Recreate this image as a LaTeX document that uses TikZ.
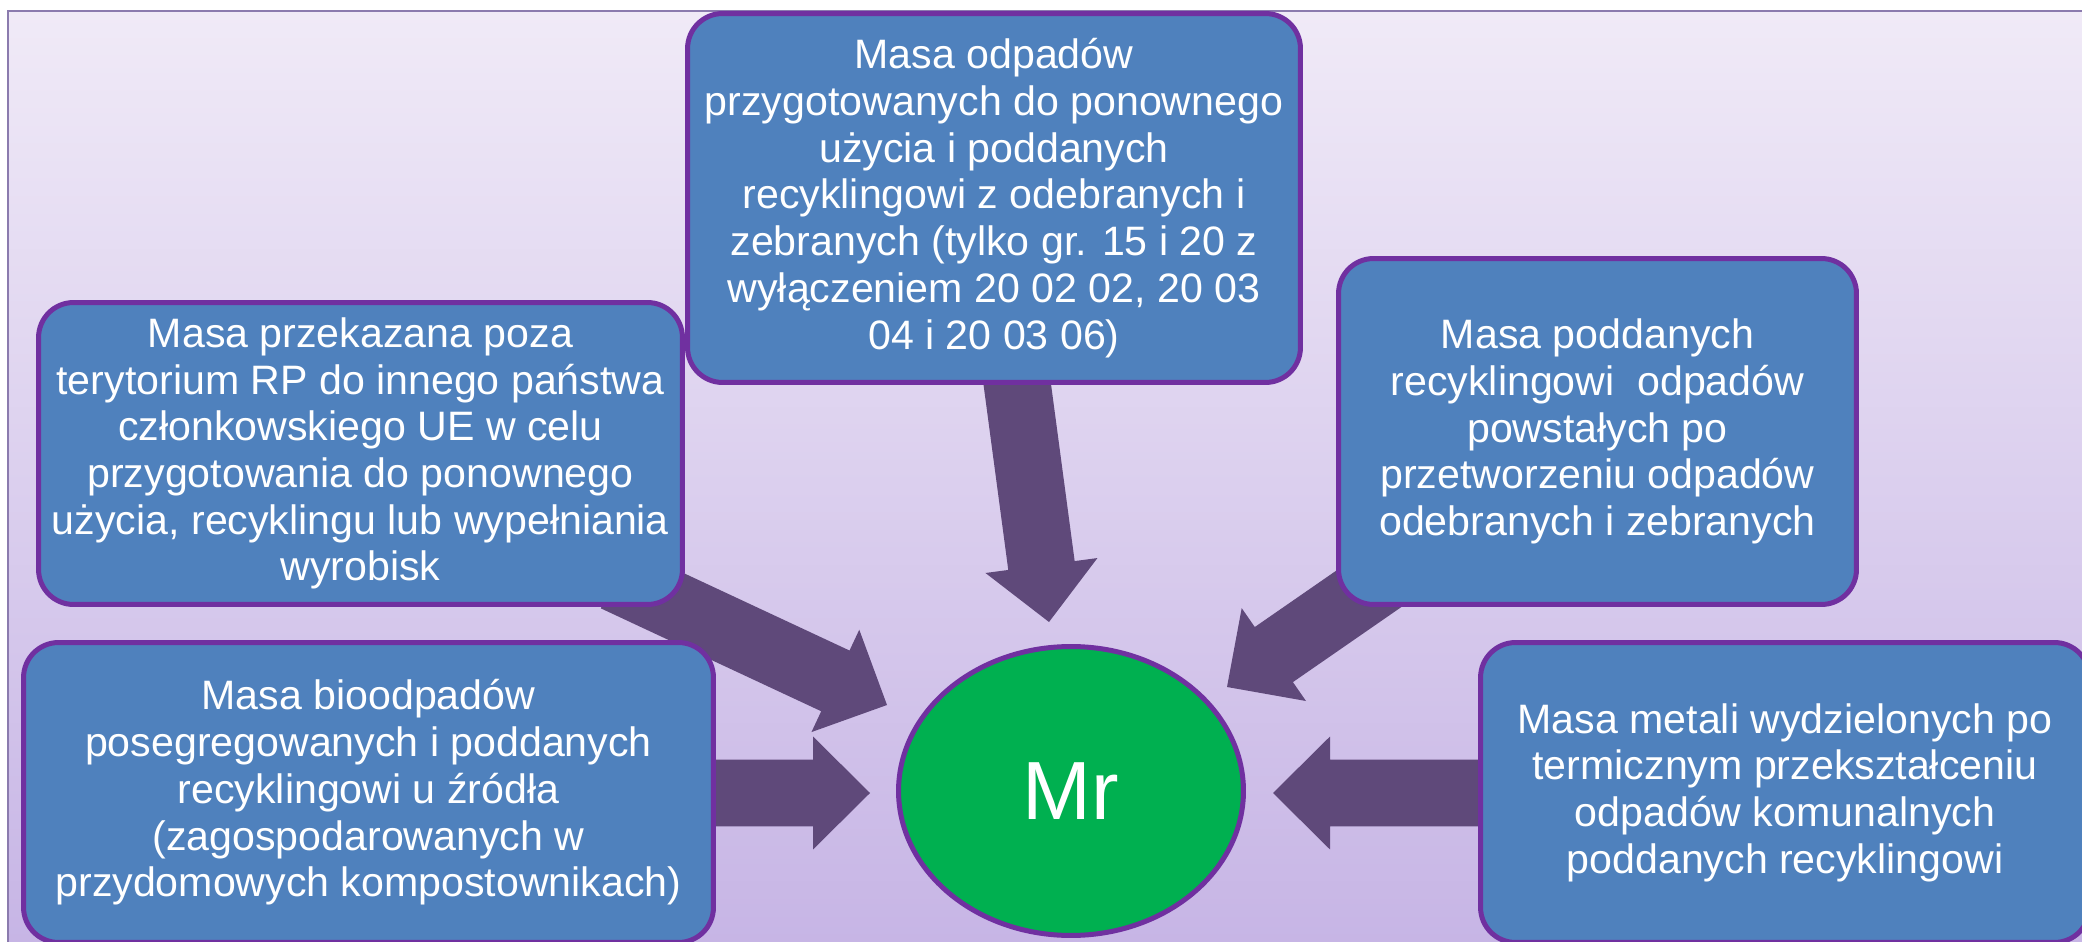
\documentclass[tikz,border=0pt]{standalone}
\usepackage{fontspec}
\setmainfont{Liberation Sans}
\usetikzlibrary{calc,shapes.geometric}
\definecolor{boxblue}{HTML}{4F81BD}
\definecolor{boxline}{HTML}{7030A0}
\definecolor{arrowcol}{HTML}{5F497A}
\definecolor{mrgreen}{HTML}{00B050}
\definecolor{bgtop}{HTML}{F0EAF7}
\definecolor{bgbot}{HTML}{C6B4E5}
\definecolor{frameline}{HTML}{8B7BAE}
% block arrow from coordinate #1 (start) to coordinate #2 (tip)
\newcommand\blockarrow[2]{%
  \coordinate (#1-b) at ($(#2)!1.14cm!(#1)$);
  \fill[arrowcol] ($(#1)!0.67cm!90:(#2)$) -- ($(#1-b)!0.67cm!90:(#2)$)
    -- ($(#1-b)!1.13cm!90:(#2)$) -- (#2) -- ($(#1-b)!1.13cm!-90:(#2)$)
    -- ($(#1-b)!0.67cm!-90:(#2)$) -- ($(#1)!0.67cm!-90:(#2)$) -- cycle;
}
\tikzset{
  box/.style={draw=boxline, line width=0.1cm, fill=boxblue, rounded corners=0.7cm,
    text=white, align=center, inner sep=0pt,
    font=\fontsize{23.4pt}{26.6pt}\selectfont},
  mrnode/.style={ellipse, draw=boxline, line width=0.1cm, fill=mrgreen,
    text=white, inner sep=0pt, font=\fontsize{47pt}{52pt}\selectfont},
}
\begin{document}
\begin{tikzpicture}[x=0.02cm,y=-0.02cm]
\useasboundingbox (0,0) rectangle (2082,942);
% background frame
\fill[top color=bgtop, bottom color=bgbot] (8,11) rectangle (2100,960);
\draw[frameline, line width=0.04cm] (8,11) rectangle (2100,960);

% arrow end points
\coordinate (a1s) at (1014,360);  \coordinate (a1t) at (1049,622);
\coordinate (a2s) at (615,578);   \coordinate (a2t) at (887,705);
\coordinate (a3s) at (700,793);   \coordinate (a3t) at (870,793);
\coordinate (a4s) at (1500,793);  \coordinate (a4t) at (1273,793);
\coordinate (a5s) at (1474,516);  \coordinate (a5t) at (1227,687);
\blockarrow{a1s}{a1t}
\blockarrow{a2s}{a2t}
\blockarrow{a3s}{a3t}
\blockarrow{a4s}{a4t}
\blockarrow{a5s}{a5t}

% boxes
\node[box, minimum width=12.26cm, minimum height=7.38cm] (top) at (994,198)
  {Masa odpadów\\przygotowanych do ponownego\\użycia i poddanych\\recyklingowi z odebranych i\\zebranych (tylko gr. 15 i 20 z\\wyłączeniem 20 02 02, 20 03\\04 i 20 03 06)};
\node[box, minimum width=12.88cm, minimum height=6.04cm] (lu) at (360.5,453.5)
  {Masa przekazana poza\\terytorium RP do innego państwa\\członkowskiego UE w celu\\przygotowania do ponownego\\użycia, recyklingu lub wypełniania\\wyrobisk};
\node[box, minimum width=10.36cm, minimum height=6.92cm] (ru) at (1597.5,431.5)
  {Masa poddanych\\recyklingowi\ \ odpadów\\powstałych po\\przetworzeniu odpadów\\odebranych i zebranych};
\node[box, minimum width=13.8cm, minimum height=6.0cm] (ll) at (368.5,792.5)
  {Masa bioodpadów\\posegregowanych i poddanych\\recyklingowi u źródła\\(zagospodarowanych w\\przydomowych kompostownikach)};
\node[box, minimum width=12.18cm, minimum height=6.0cm] (rl) at (1785,792.5)
  {Masa metali wydzielonych po\\termicznym przekształceniu\\odpadów komunalnych\\poddanych recyklingowi};
\node[mrnode, minimum width=6.9cm, minimum height=5.78cm] (mr) at (1071,791) {Mr};
\end{tikzpicture}
\end{document}
